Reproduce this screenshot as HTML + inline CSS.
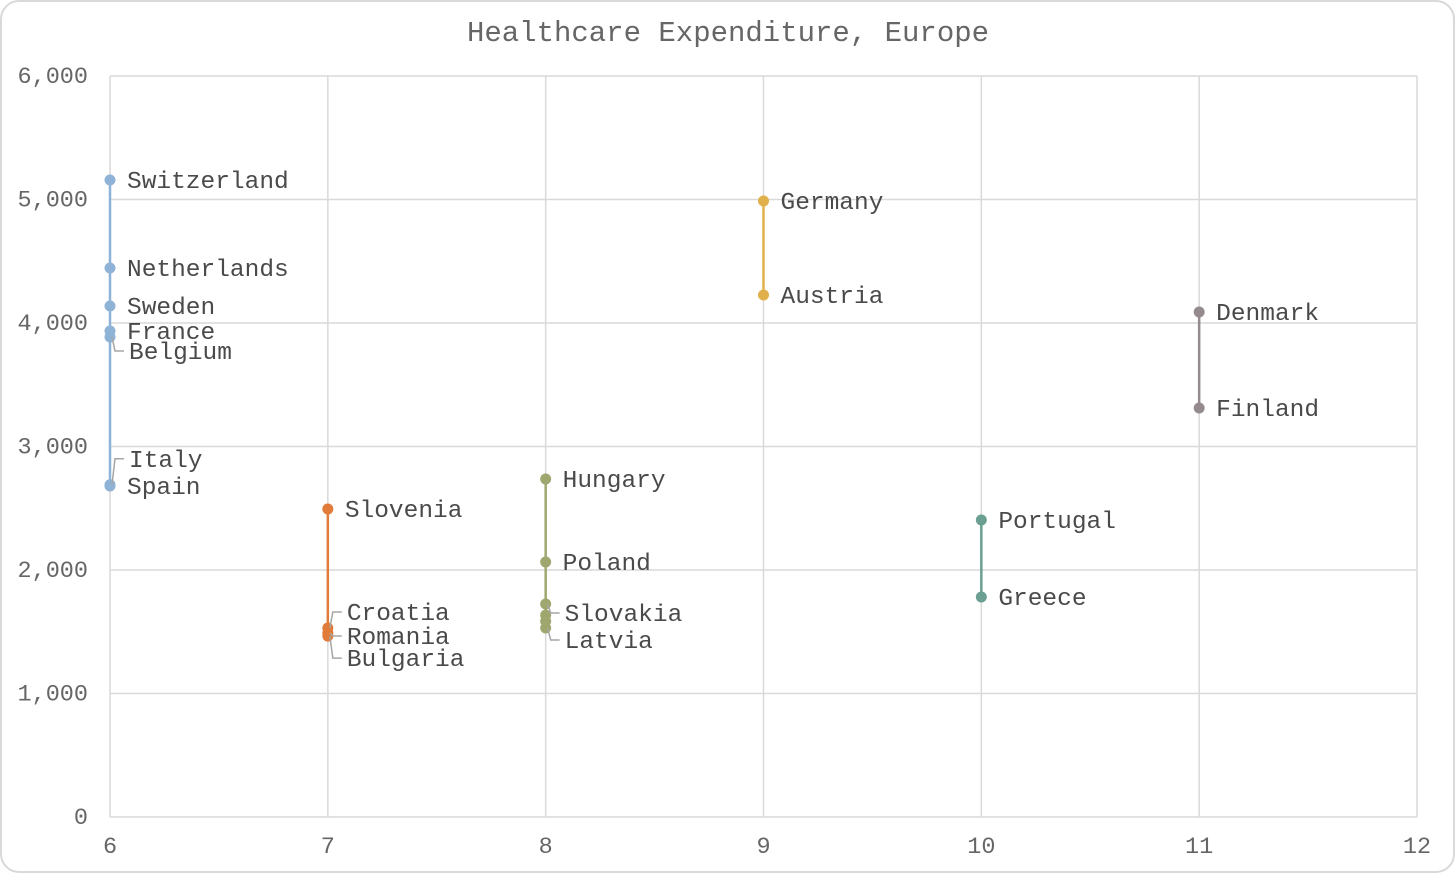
<!DOCTYPE html>
<html><head><meta charset="utf-8"><style>
html,body{margin:0;padding:0;background:#fff;}
svg{display:block;font-family:"Liberation Mono",monospace;}
</style></head><body>
<svg id="chart" width="1456" height="874">
<rect x="1" y="1" width="1453" height="871" rx="18" fill="#fff" stroke="#d9d9d9" stroke-width="2"/>
<text x="728" y="41" text-anchor="middle" font-size="29" fill="#666">Healthcare Expenditure, Europe</text>
<g id="grid"></g><g id="series"></g><g id="labels"></g>
</svg>
<script>
const xTicks=[6,7,8,9,10,11,12];
const yTicks=[0,1000,2000,3000,4000,5000,6000];
const yTickLabels=["0","1,000","2,000","3,000","4,000","5,000","6,000"];
const countries=["Switzerland","Netherlands","Sweden","France","Belgium","Italy","Spain","Slovenia","Croatia","Romania","Bulgaria","Hungary","Poland","Slovakia","","","Latvia","Germany","Austria","Denmark","Finland","Portugal","Greece"];
const groups=[6,6,6,6,6,6,6,7,7,7,7,8,8,8,8,8,8,9,9,11,11,10,10];
const spending=[5158,4445,4138,3935,3887,2690,2680,2494,1530,1490,1465,2737,2065,1725,1635,1585,1530,4988,4227,4089,3312,2405,1781];
const labelShift=[0,0,0,0,14,-26,0,0,-16,3,22,0,0,9,0,0,12,0,0,0,0,0,0];
const colors={6:"#8fb3d6",7:"#e07b39",8:"#9fa76f",9:"#e0b04a",10:"#6a9f91",11:"#948a8f"};
const ns="http://www.w3.org/2000/svg";
const L=110,R=1417,T=76,B=817;
const sx=v=>L+(v-6)/(12-6)*(R-L);
const sy=v=>B-v/6000*(B-T);
function mk(tag,at,parent){const e=document.createElementNS(ns,tag);for(const k in at)e.setAttribute(k,at[k]);parent.appendChild(e);return e;}
const grid=document.getElementById('grid'),ser=document.getElementById('series'),lab=document.getElementById('labels');
yTicks.forEach((t,i)=>{
 const l=mk('line',{x1:L,x2:R,y1:sy(t),y2:sy(t),stroke:"#d9d9d9","stroke-width":1.5},grid);
 
 const tx=mk('text',{x:88,y:sy(t)+7,"text-anchor":"end","font-size":23.5,fill:"#666"},grid);
 tx.textContent=yTickLabels[i];
 
});
xTicks.forEach(t=>{
 const l=mk('line',{x1:sx(t),x2:sx(t),y1:T,y2:B,stroke:"#d9d9d9","stroke-width":1.5},grid);
 
 const tx=mk('text',{x:sx(t),y:853,"text-anchor":"middle","font-size":23.5,fill:"#666"},grid);
 tx.textContent=String(t);
 
});
[...new Set(groups)].forEach(g=>{
 const vals=spending.filter((v,i)=>groups[i]===g);
 const ln=mk('line',{x1:sx(g),x2:sx(g),y1:sy(Math.max(...vals)),y2:sy(Math.min(...vals)),stroke:colors[g],"stroke-width":2.5},ser);
 
});
spending.forEach((v,i)=>{
 const g=groups[i],cx=sx(g),cy=sy(v);
 const c=mk('circle',{cx:cx,cy:cy,r:5.5,fill:colors[g]},ser);
 
 
 if(!countries[i])return;
 const ly=cy+labelShift[i];
 let tx0=cx+17;
 if(labelShift[i]!==0){
  tx0=cx+19;
  const p=mk('polyline',{points:`${cx+2},${cy} ${cx+5},${ly} ${cx+14},${ly}`,fill:"none",stroke:"#a6a6a6","stroke-width":1.5},lab);
  
 }
 const t=mk('text',{x:tx0,y:ly+8,"font-size":24.5,fill:"#4a4a4a"},lab);
 t.textContent=countries[i];
 
 
});
</script>
</body></html>
